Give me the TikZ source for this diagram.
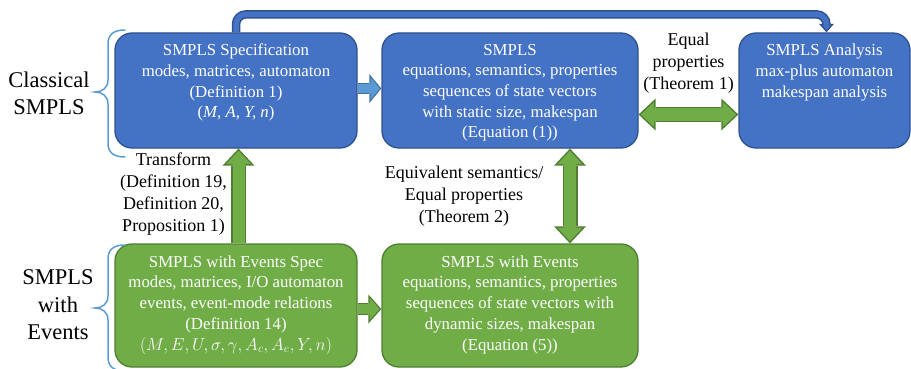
\documentclass[tikz,border=0pt]{standalone}
\usepackage{fontspec}
\setmainfont{Liberation Serif}
\usetikzlibrary{arrows.meta,positioning}

\definecolor{boxblue}{HTML}{4472C4}
\definecolor{blueedge}{HTML}{2F528F}
\definecolor{boxgreen}{HTML}{70AD47}
\definecolor{greenedge}{HTML}{507E32}
\definecolor{arrowblue}{HTML}{5B9BD5}
\definecolor{arrowedge}{HTML}{41719C}

\begin{document}
\begin{tikzpicture}[
    x=1pt, y=-1pt,
    base box/.style={rectangle, rounded corners=17pt, line width=1.3pt},
    spec box/.style={base box, draw=blueedge, fill=boxblue},
    event box/.style={base box, draw=greenedge, fill=boxgreen},
    box text/.style={text=white, align=center, inner sep=0pt, anchor=north,
        font=\fontsize{16.8}{20.7}\selectfont},
    note/.style={align=center, inner sep=0pt, font=\fontsize{18}{22}\selectfont},
    side label/.style={align=center, inner sep=0pt, font=\fontsize{22.5}{27.5}\selectfont},
    side brace/.style={draw=arrowblue, line width=1.5pt, line cap=round},
    top link/.style={draw=boxblue, line width=5.5pt, rounded corners=10pt,
        -{Triangle[width=8.3pt,length=4.7pt,line width=0pt]}, shorten >=2.3pt,
        preaction={draw=blueedge, line width=8.5pt,
            -{Triangle[width=15pt,length=8.5pt,line width=0pt]}, shorten >=0pt}},
    small blue/.style={draw=arrowblue, line width=8.6pt,
        -{Triangle[width=22.3pt,length=9.2pt,line width=0pt]}, shorten >=1.6pt,
        preaction={draw=arrowedge, line width=11pt,
            -{Triangle[width=29pt,length=12pt,line width=0pt]}, shorten >=0pt}},
    small green/.style={draw=boxgreen, line width=9.4pt,
        -{Triangle[width=22.2pt,length=10pt,line width=0pt]}, shorten >=1.75pt,
        preaction={draw=greenedge, line width=12pt,
            -{Triangle[width=29pt,length=13pt,line width=0pt]}, shorten >=0pt}},
    fat green/.style={draw=boxgreen, line width=12pt,
        -{Triangle[width=25pt,length=13.3pt,line width=0pt]}, shorten >=2.2pt,
        preaction={draw=greenedge, line width=15pt,
            -{Triangle[width=32pt,length=17pt,line width=0pt]}, shorten >=0pt}},
    fat twin/.style={draw=boxgreen, line width=12pt,
        {Triangle[width=25pt,length=13.3pt,line width=0pt]}-{Triangle[width=25pt,length=13.3pt,line width=0pt]},
        shorten <=2.2pt, shorten >=2.2pt,
        preaction={draw=greenedge, line width=15pt,
            {Triangle[width=32pt,length=17pt,line width=0pt]}-{Triangle[width=32pt,length=17pt,line width=0pt]},
            shorten <=0pt, shorten >=0pt}}
]
\useasboundingbox (0,0) rectangle (911,369);

% Boxes
\node[spec box, minimum width=242pt, minimum height=115pt] (spec) at (236,90.5) {};
\node[spec box, minimum width=256pt, minimum height=115pt] (sem) at (510,90.5) {};
\node[spec box, minimum width=171pt, minimum height=115pt] (analysis) at (824.5,90.5) {};
\node[event box, minimum width=242pt, minimum height=123pt] (evspec) at (236,305.5) {};
\node[event box, minimum width=256pt, minimum height=123pt] (evsem) at (510,305.5) {};

% Box contents
\node[box text, below=11.5pt of spec.north] (spec txt) {SMPLS Specification\\
    modes, matrices, automaton\\(Definition 1)\\(\textit{M, A, Y, n})};
\node[box text, below=11.5pt of sem.north] (sem txt) {SMPLS\\
    equations, semantics, properties\\sequences of state vectors\\
    with static size, makespan\\(Equation (1))};
\node[box text, below=11.5pt of analysis.north] (analysis txt) {SMPLS Analysis\\
    max-plus automaton\\makespan analysis};
\node[box text, below=12pt of evspec.north] (evspec txt) {SMPLS with Events Spec\\
    modes, matrices, I/O automaton\\events, event-mode relations\\
    (Definition 14)\\$(M, E, U, \sigma, \gamma, A_c, A_e, Y, n)$};
\node[box text, below=12pt of evsem.north] (evsem txt) {SMPLS with Events\\
    equations, semantics, properties\\sequences of state vectors with\\
    dynamic sizes, makespan\\(Equation (5))};

% Connectors
\draw[top link] (spec.north) -- ++(0,-18) -| ([xshift=2pt]analysis.north);
\draw[small blue] ([yshift=2pt]spec.east) -- ([yshift=2pt]sem.west);
\draw[small green] ([yshift=-3.5pt]evspec.east) -- ([yshift=-3.5pt]evsem.west);
\draw[fat green] ([xshift=2.5pt]evspec.north) -- ([xshift=2.5pt]spec.south);
\draw[fat twin] ([xshift=60pt]sem.south) -- ([xshift=60pt]evsem.north);
\draw[fat twin] ([yshift=-24pt]sem.east) -- ([yshift=-24pt]analysis.west);

% Notes
\node[note] (equal note) at (688.5,63) {Equal\\properties\\(Theorem 1)};
\node[note] (equiv note) at (464,196) {Equivalent semantics/\\Equal properties\\(Theorem 2)};
\node[note] (transform note) at (173.5,194.5) {Transform\\(Definition 19,\\Definition 20,\\Proposition 1)};

% Side labels and braces
\node[side label] (classical) at (49,93.5) {Classical\\SMPLS};
\node[side label] (with events) at (58,305) {SMPLS\\with\\Events};
\foreach \ytop/\ytip/\ybot in {30/92/157, 245/308/371} {
    \draw[side brace] (125,\ytop) .. controls (113,\ytop) and (108,\ytop+5) .. (108,\ytop+14)
        -- (108,\ytip-12) .. controls (108,\ytip-4) and (102,\ytip) .. (95,\ytip)
        .. controls (102,\ytip) and (108,\ytip+4) .. (108,\ytip+12)
        -- (108,\ybot-14) .. controls (108,\ybot-5) and (113,\ybot) .. (125,\ybot);
}
\end{tikzpicture}
\end{document}
